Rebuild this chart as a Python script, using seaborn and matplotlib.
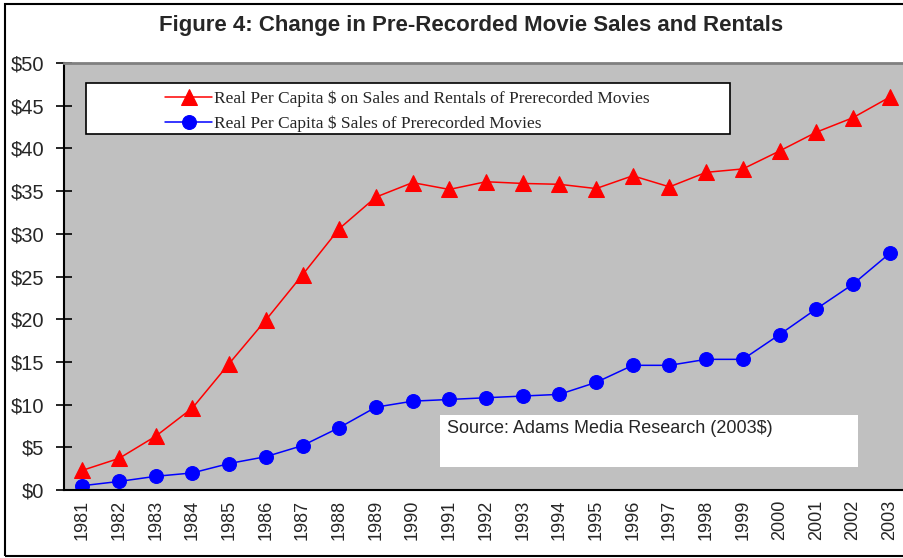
import pandas as pd
import seaborn as sns
import matplotlib.pyplot as plt
from matplotlib.patches import Rectangle
from matplotlib.ticker import FixedLocator

years = list(range(1981, 2004))
sales_rentals = [2.3, 3.7, 6.3, 9.6, 14.8, 19.9, 25.2, 30.6, 34.3, 36.0, 35.2, 36.1,
                 35.9, 35.8, 35.3, 36.8, 35.5, 37.2, 37.6, 39.7, 41.9, 43.6, 46.0]
sales_only = [0.5, 1.0, 1.6, 2.0, 3.1, 3.9, 5.2, 7.3, 9.7, 10.4, 10.6, 10.8,
              11.0, 11.2, 12.6, 14.6, 14.6, 15.3, 15.3, 18.2, 21.2, 24.1, 27.7]
label_red = "Real Per Capita $ on Sales and Rentals of Prerecorded Movies"
label_blue = "Real Per Capita $ Sales of Prerecorded Movies"
y_ticks = [0, 5, 10, 15, 20, 25, 30, 35, 40, 45, 50]

df = pd.DataFrame({"year": years, "red": sales_rentals, "blue": sales_only})

sns.set_style("white")
plt.rcParams["font.family"] = ["Liberation Sans", "DejaVu Sans"]

fig = plt.figure(figsize=(9.04, 5.58), dpi=100)
ax = fig.add_axes([0.0708, 0.1219, 0.9336, 0.7651])
ax.set_facecolor("#C0C0C0")

sns.lineplot(data=df, x="year", y="red", ax=ax, color="red", marker="^",
             markersize=11, markeredgecolor="red", linewidth=1.1, label=label_red)
sns.lineplot(data=df, x="year", y="blue", ax=ax, color="blue", marker="o",
             markersize=10, markeredgecolor="blue", linewidth=1.1, label=label_blue)

ax.set_xlim(1980.5, 2003.5)
ax.set_ylim(0, 50)
ax.set_xticks(years)
ax.set_xticklabels([str(y) for y in years], rotation=90, fontsize=13)
ax.xaxis.set_minor_locator(FixedLocator([y - 0.5 for y in years] + [2003.5]))
ax.tick_params(axis="x", which="major", length=0, pad=7)
ax.tick_params(axis="x", which="minor", direction="inout", length=10, width=1.2, color="black")
ax.set_yticks(y_ticks)
ax.set_yticklabels([f"${v}" for v in y_ticks], fontsize=14.5)
ax.tick_params(axis="y", direction="inout", length=12, width=1.2, color="black", pad=8, left=True)
ax.set_xlabel("")
ax.set_ylabel("")

for side in ["left", "bottom"]:
    ax.spines[side].set_color("black")
    ax.spines[side].set_linewidth(1.5)
ax.spines["top"].set_color("#808080")
ax.spines["top"].set_linewidth(2)
ax.spines["right"].set_visible(False)

# legend box
ax.add_patch(Rectangle((0.026, 0.834), 0.763, 0.119, transform=ax.transAxes,
                       facecolor="white", edgecolor="black", linewidth=1.2, zorder=4))
leg = ax.legend(loc="center left", bbox_to_anchor=(0.12, 0.8876), frameon=False,
                prop={"family": "Liberation Serif", "size": 12.5}, handlelength=2.7,
                handletextpad=0.1, labelspacing=0.5, borderpad=0, borderaxespad=0)
leg.set_zorder(5)

# source box
ax.add_patch(Rectangle((0.4455, 0.054), 0.4953, 0.1216, transform=ax.transAxes,
                       facecolor="white", edgecolor="none", zorder=4))
ax.text(0.454, 0.144, "Source: Adams Media Research (2003$)", transform=ax.transAxes,
        fontsize=13, va="center", ha="left", zorder=5)

fig.text(0.521, 0.955, "Figure 4: Change in Pre-Recorded Movie Sales and Rentals",
         ha="center", va="center", fontsize=16, fontweight="bold")

fig.patches.append(Rectangle((0.005, 0.003), 1.1, 0.99, transform=fig.transFigure,
                             facecolor="none", edgecolor="black", linewidth=1.5))

fig.savefig("out.png", dpi=100)
